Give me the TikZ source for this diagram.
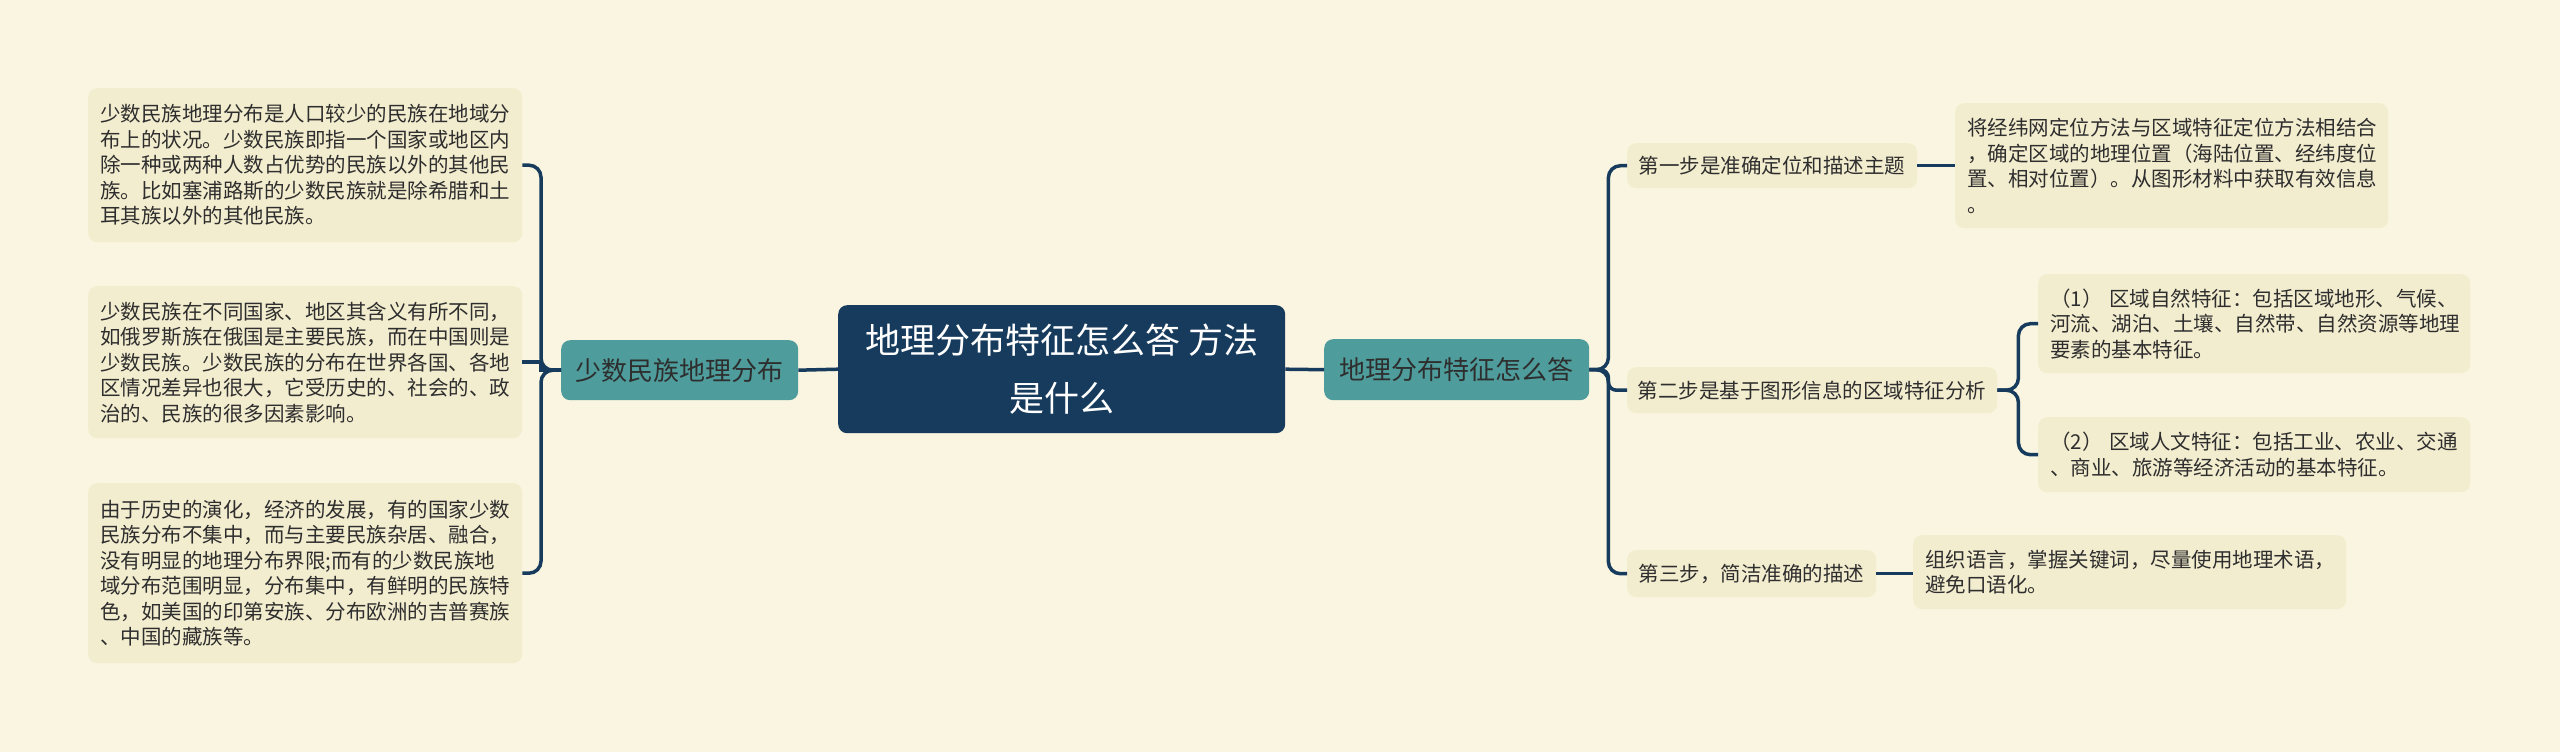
\documentclass[tikz,border=0pt]{standalone}
\usepackage{fontspec}
\setmainfont{Noto Sans CJK SC}
\definecolor{bgcol}{HTML}{FAF5E0}
\definecolor{boxcol}{HTML}{F3EDCF}
\definecolor{tealcol}{HTML}{4E9D9C}
\definecolor{navycol}{HTML}{173B5C}
\definecolor{txtcol}{HTML}{2E2E2E}
\tikzset{
  textbox/.style={fill=boxcol, rounded corners=9pt, anchor=north west, align=left,
    inner xsep=12pt, inner ysep=0pt, text=txtcol,
    font=\fontsize{20.5pt}{25.5pt}\selectfont},
  stepbox/.style={fill=boxcol, rounded corners=9pt, anchor=north west, align=center,
    inner sep=0pt, text=txtcol, font=\fontsize{20.5pt}{25.5pt}\selectfont},
  branchbox/.style={fill=tealcol, rounded corners=9pt, anchor=north west, align=center,
    inner sep=0pt, text=txtcol, font=\fontsize{26pt}{32pt}\selectfont},
  rootbox/.style={fill=navycol, rounded corners=9pt, anchor=north west, align=center,
    inner sep=0pt, text=white, font=\fontsize{35pt}{58pt}\selectfont},
  conn/.style={draw=navycol, line width=3.5pt, rounded corners=12pt},
}
\begin{document}
\begin{tikzpicture}[x=1pt,y=-1pt]
\fill[bgcol] (0,0) rectangle (2560,752);
\useasboundingbox (0,0) rectangle (2560,752);

% root
\node[rootbox, minimum width=447pt, minimum height=128pt] (root) at (838,305)
  {地理分布特征怎么答 方法\\是什么};

% left branch
\node[branchbox, minimum width=237pt, minimum height=60pt] (ln) at (561,340) {少数民族地理分布};
\node[textbox, text width=410pt, minimum height=154pt] (L1) at (88,88)
  {少数民族地理分布是人口较少的民族在地域分\\布上的状况。少数民族即指一个国家或地区内\\除一种或两种人数占优势的民族以外的其他民\\族。比如塞浦路斯的少数民族就是除希腊和土\\耳其族以外的其他民族。};
\node[textbox, text width=410pt, minimum height=152pt] (L2) at (88,286)
  {少数民族在不同国家、地区其含义有所不同，\\如俄罗斯族在俄国是主要民族，而在中国则是\\少数民族。少数民族的分布在世界各国、各地\\区情况差异也很大，它受历史的、社会的、政\\治的、民族的很多因素影响。};
\node[textbox, text width=410pt, minimum height=180pt] (L3) at (88,483)
  {由于历史的演化，经济的发展，有的国家少数\\民族分布不集中，而与主要民族杂居、融合，\\没有明显的地理分布界限;而有的少数民族地\\域分布范围明显，分布集中，有鲜明的民族特\\色，如美国的印第安族、分布欧洲的吉普赛族\\、中国的藏族等。};

% right branch
\node[branchbox, minimum width=265pt, minimum height=61pt] (rn) at (1324,339) {地理分布特征怎么答};
\node[stepbox, minimum width=290pt, minimum height=45pt] (s1) at (1627,143) {第一步是准确定位和描述主题};
\node[stepbox, minimum width=370pt, minimum height=46pt] (s2) at (1627,367) {第二步是基于图形信息的区域特征分析};
\node[stepbox, minimum width=249pt, minimum height=47pt] (s3) at (1627,550) {第三步，简洁准确的描述};

\node[textbox, text width=409pt, minimum height=125pt] (s1c) at (1955,103)
  {将经纬网定位方法与区域特征定位方法相结合\\，确定区域的地理位置（海陆位置、经纬度位\\置、相对位置）。从图形材料中获取有效信息\\。};
\node[textbox, text width=408pt, minimum height=99pt] (s2a) at (2038,274)
  {（1） 区域自然特征：包括区域地形、气候、\\河流、湖泊、土壤、自然带、自然资源等地理\\要素的基本特征。};
\node[textbox, text width=408pt, minimum height=75pt] (s2b) at (2038,417)
  {（2） 区域人文特征：包括工业、农业、交通\\、商业、旅游等经济活动的基本特征。};
\node[textbox, text width=409pt, minimum height=74pt] (s3c) at (1913,535)
  {组织语言，掌握关键词，尽量使用地理术语，\\避免口语化。};

% connectors
\draw[conn] (root.west) -- (ln.east);
\draw[conn] (root.east) -- (rn.west);
\draw[conn] (ln.west) -- ++(-20,0) |- (L1.east);
\draw[conn, rounded corners=0pt] (ln.west) -- ++(-20,0) |- (L2.east);
\draw[conn] (ln.west) -- ++(-20,0) |- (L3.east);

\draw[conn] (rn.east) -- ++(19,0) |- (s1.west);
\draw[conn, rounded corners=8pt] (rn.east) -- ++(19,0) |- (s2.west);
\draw[conn] (rn.east) -- ++(19,0) |- (s3.west);

\draw[conn] (s1.east) -- (s1c.west);
\draw[conn] (s3.east) -- (s3.east -| s3c.west);
\draw[conn] (s2.east) -- ++(21,0) |- (s2a.west);
\draw[conn] (s2.east) -- ++(21,0) |- (s2b.west);
\end{tikzpicture}
\end{document}
